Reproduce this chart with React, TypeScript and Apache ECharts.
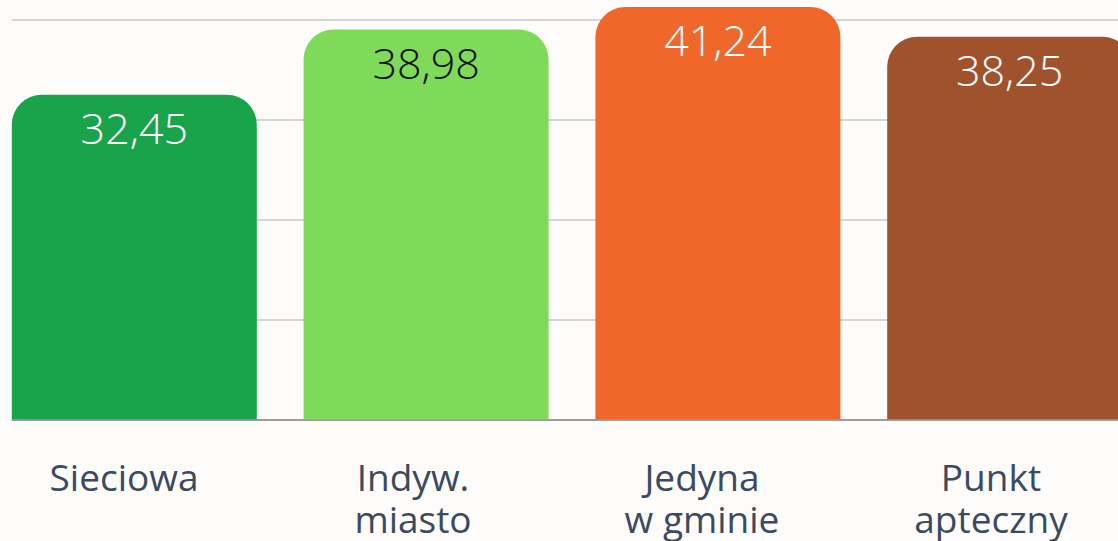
import React, { useEffect, useRef } from "react";
import * as echarts from "echarts";

const categories = ["Sieciowa", "Indyw.\nmiasto", "Jedyna\nw gminie", "Punkt\napteczny"];
const values = [32.45, 38.98, 41.24, 38.25];
const barColors = ["#19a34a", "#80da5a", "#f0672b", "#a0522d"];
const valueLabelColors = ["#ffffff", "#111111", "#ffffff", "#ffffff"];
const yTicks = [0, 10, 20, 30, 40];

export default function App() {
  const ref = useRef<HTMLDivElement>(null);

  useEffect(() => {
    if (!ref.current) return;
    const chart = echarts.init(ref.current, null, { renderer: "svg" });
    const yMin = yTicks[0];
    const yMax = yTicks[yTicks.length - 1];
    const yInterval = yTicks[1] - yTicks[0];
    const top = 19.3;
    const height = 400;

    chart.setOption({
      animation: false,
      backgroundColor: "#fdfcfb",
      grid: [
        { left: -11.6, width: 1167.2, top, height, outerBoundsMode: "none", containLabel: false },
        { left: 12, right: 0, top, height, outerBoundsMode: "none", containLabel: false },
        { left: -20.5, width: 1156, top, height, outerBoundsMode: "none", containLabel: false },
      ],
      xAxis: [
        {
          gridIndex: 0,
          type: "category",
          data: categories,
          axisLine: { show: false },
          axisTick: { show: false },
          axisLabel: { show: false },
        },
        {
          gridIndex: 1,
          type: "category",
          data: categories,
          axisLine: { show: true, lineStyle: { color: "#8a8a8a", width: 1.5 } },
          axisTick: { show: false },
          axisLabel: { show: false },
        },
        {
          gridIndex: 2,
          type: "category",
          data: categories,
          axisLine: { show: false },
          axisTick: { show: false },
          axisLabel: {
            show: true,
            interval: 0,
            margin: 36,
            fontSize: 37,
            lineHeight: 42,
            color: "#3b4a5e",
            fontFamily: "Open Sans",
          },
        },
      ],
      yAxis: [
        { gridIndex: 0, type: "value", min: yMin, max: yMax, interval: yInterval, show: false },
        {
          gridIndex: 1,
          type: "value",
          min: yMin,
          max: yMax,
          interval: yInterval,
          axisLabel: { show: false },
          axisLine: { show: false },
          axisTick: { show: false },
          splitLine: { show: true, lineStyle: { color: "#c8c8c8", width: 1.5 } },
        },
        { gridIndex: 2, type: "value", min: yMin, max: yMax, interval: yInterval, show: false },
      ],
      series: [
        {
          type: "bar",
          xAxisIndex: 0,
          yAxisIndex: 0,
          barWidth: 245,
          clip: false,
          data: values.map((v, i) => ({
            value: v,
            itemStyle: { color: barColors[i], borderRadius: [30, 30, 0, 0] },
            label: { color: valueLabelColors[i] },
          })),
          label: {
            show: true,
            position: "insideTop",
            distance: 11,
            fontSize: 43,
            fontWeight: 300,
            fontFamily: "Open Sans",
            formatter: (p: any) => Number(p.value).toFixed(2).replace(".", ","),
          },
        },
      ],
    });

    return () => chart.dispose();
  }, []);

  return (
    <div
      ref={ref}
      style={{ position: "absolute", left: 0, top: 0, width: 1118, height: 541 }}
    />
  );
}
